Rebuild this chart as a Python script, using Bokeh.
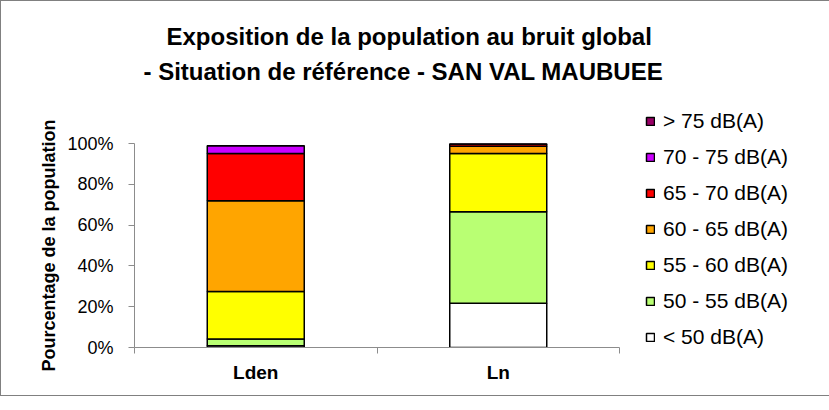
from bokeh.plotting import figure
from bokeh.models import (Range1d, FixedTicker, LinearAxis, Legend, LegendItem,
                          Title, PrintfTickFormatter, ColumnDataSource)
from bokeh.embed import file_html
from bokeh.resources import INLINE

categories = ["Lden", "Ln"]
bands = ["< 50 dB(A)", "50 - 55 dB(A)", "55 - 60 dB(A)", "60 - 65 dB(A)",
         "65 - 70 dB(A)", "70 - 75 dB(A)", "> 75 dB(A)"]
lt50 = [0.8, 21.7]
b50_55 = [3.4, 44.8]
b55_60 = [23.3, 28.6]
b60_65 = [44.4, 3.6]
b65_70 = [23.2, 1.0]
b70_75 = [3.8, 0.2]
gt75 = [0.0, 0.0]
colors = ["#FFFFFF", "#B9FF73", "#FFFF00", "#FFA500", "#FF0000", "#CC00FF", "#990066"]
yticks = [0, 20, 40, 60, 80, 100]
title1 = "Exposition de la population au bruit global"
title2 = "- Situation de référence - SAN VAL MAUBUEE"
ylabel = "Pourcentage de la population"

FONT = "Liberation Sans"
keys = ["k0", "k1", "k2", "k3", "k4", "k5", "k6"]
series = [lt50, b50_55, b55_60, b60_65, b65_70, b70_75, gt75]
data = {"x": [i + 0.5 for i in range(len(categories))]}
for k, s in zip(keys, series):
    data[k] = s
src = ColumnDataSource(data)

p = figure(frame_width=485, frame_height=204, output_backend="svg", toolbar_location=None,
           x_range=Range1d(0, len(categories)), y_range=Range1d(0, 100),
           x_axis_type=None, y_axis_type=None,
           min_border_left=133, min_border_right=195,
           min_border_top=142, min_border_bottom=48)
p.outline_line_color = None
p.background_fill_color = "white"
p.border_fill_color = "white"
p.styles = {"border": "1px solid #808080"}

renderers = p.vbar_stack(keys, x="x", width=0.4, source=src, color=colors,
                         line_color="black", line_width=1.5)

AX = "#8C8C8C"
# y axis
yax = LinearAxis(ticker=FixedTicker(ticks=yticks),
                 formatter=PrintfTickFormatter(format="%d%%"))
yax.axis_label = ylabel
yax.axis_label_text_font = FONT
yax.axis_label_text_font_style = "bold"
yax.axis_label_text_font_size = "18px"
yax.axis_label_text_color = "black"
yax.axis_label_standoff = 5
yax.major_label_text_font = FONT
yax.major_label_text_font_size = "18px"
yax.major_label_text_color = "black"
yax.major_label_standoff = 15
yax.axis_line_color = AX
yax.major_tick_line_color = AX
yax.major_tick_out = 6
yax.major_tick_in = 0
yax.minor_tick_line_color = None
p.add_layout(yax, "left")

# x axis: labels at category centres, minor ticks at category boundaries
xl = LinearAxis(ticker=FixedTicker(ticks=data["x"],
                                   minor_ticks=list(range(len(categories) + 1))),
                major_label_overrides={x: c for x, c in zip(data["x"], categories)})
xl.axis_line_color = AX
xl.major_tick_line_color = None
xl.major_tick_out = 6
xl.minor_tick_line_color = AX
xl.minor_tick_out = 6
xl.minor_tick_in = 0
xl.major_label_text_font = FONT
xl.major_label_text_font_style = "bold"
xl.major_label_text_font_size = "19px"
xl.major_label_text_color = "black"
xl.major_label_standoff = 8
p.add_layout(xl, "below")

# grid
p.ygrid.ticker = FixedTicker(ticks=yticks)
p.ygrid.grid_line_color = "#A6A6A6"
p.xgrid.grid_line_color = None

# blank spacer between the frame and the titles
spacer = Title(text="\u00a0", align="left", standoff=30,
               text_font=FONT, text_font_size="24px", text_color="white")
p.add_layout(spacer, "above")

# titles: nearest to the frame is added first
t2 = Title(text=title2, align="left", offset=9, standoff=0,
           text_font=FONT, text_font_style="bold", text_font_size="24px",
           text_color="black")
t1 = Title(text=title1, align="left", offset=32, standoff=11,
           text_font=FONT, text_font_style="bold", text_font_size="24px",
           text_color="black")
p.add_layout(t2, "above")
p.add_layout(t1, "above")

# legend in the right panel
items = [LegendItem(label=b, renderers=[r]) for b, r in zip(bands, renderers)][::-1]
leg = Legend(items=items, location=(26, -2), glyph_width=10, glyph_height=10,
             label_text_font=FONT, label_text_font_size="21px", label_standoff=8,
             label_text_baseline="alphabetic", label_text_color="black",
             spacing=12, padding=0, margin=0, border_line_color=None,
             background_fill_alpha=0)
p.add_layout(leg, "right")

open("out.html", "w").write(file_html(p, INLINE))
